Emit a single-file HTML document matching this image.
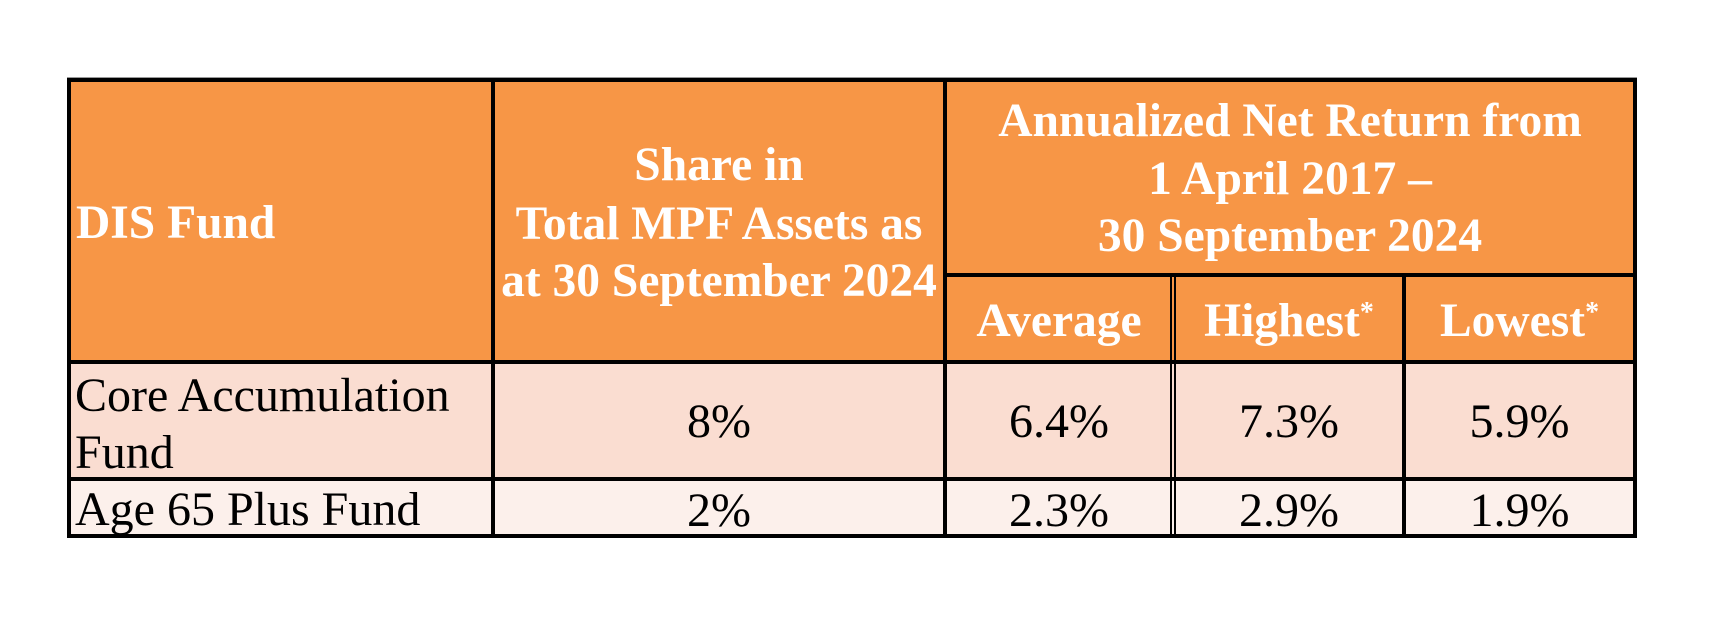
<!DOCTYPE html>
<html>
<head>
<meta charset="utf-8">
<style>
  html, body { margin:0; padding:0; background:#ffffff; }
  body { width:1716px; height:624px; position:relative; overflow:hidden;
         font-family:"Liberation Serif", "Times New Roman", serif; }
  .bg { position:absolute; }
  .ln { position:absolute; background:#000; }
  .t { position:absolute; white-space:nowrap; line-height:1; }
  .b { font-weight:bold; font-size:47.5px; color:#ffffff; }
  .r { font-weight:normal; font-size:48px; color:#000000; }
  .c { text-align:center; }
  .ast { font-size:28px; vertical-align:15px; line-height:0; }
</style>
</head>
<body>
  <!-- backgrounds -->
  <div class="bg" style="left:67px; top:78px; width:1570px; height:284px; background:#F79646;"></div>
  <div class="bg" style="left:67px; top:362px; width:1570px; height:117px; background:#FADDD1;"></div>
  <div class="bg" style="left:67px; top:479px; width:1570px; height:57px; background:#FCF0EB;"></div>

  <!-- faint antialias line above top border -->
  <div class="bg" style="left:67px; top:77px; width:1570px; height:1px; background:#9a9a9a;"></div>

  <!-- outer borders -->
  <div class="ln" style="left:67px; top:78px; width:1570px; height:4px;"></div>
  <div class="ln" style="left:67px; top:534px; width:1570px; height:4px;"></div>
  <div class="ln" style="left:67px; top:78px; width:4px; height:460px;"></div>
  <div class="ln" style="left:1633px; top:78px; width:4px; height:460px;"></div>

  <!-- vertical dividers -->
  <div class="ln" style="left:491px; top:78px; width:4px; height:460px;"></div>
  <div class="ln" style="left:943px; top:78px; width:4px; height:460px;"></div>
  <div class="ln" style="left:1170px; top:275px; width:2px; height:261px;"></div>
  <div class="ln" style="left:1173.5px; top:275px; width:2px; height:261px;"></div>
  <div class="ln" style="left:1402px; top:275px; width:4px; height:261px;"></div>

  <!-- horizontal dividers -->
  <div class="ln" style="left:943px; top:273px; width:694px; height:4px;"></div>
  <div class="ln" style="left:67px; top:360px; width:1570px; height:4px;"></div>
  <div class="ln" style="left:67px; top:477px; width:1570px; height:4px;"></div>

  <!-- header text -->
  <div class="t b" style="left:76px; top:200.2px;">DIS Fund</div>

  <div class="t b c" style="left:494px; width:450px; top:142.2px;">Share in</div>
  <div class="t b c" style="left:494px; width:450px; top:201.2px;">Total MPF Assets as</div>
  <div class="t b c" style="left:494px; width:450px; top:258.2px;">at 30 September 2024</div>

  <div class="t b c" style="left:947px; width:686px; top:98.2px;">Annualized Net Return from</div>
  <div class="t b c" style="left:947px; width:686px; top:156.2px;">1 April 2017 –</div>
  <div class="t b c" style="left:947px; width:686px; top:213.2px;">30 September 2024</div>

  <div class="t b c" style="left:947px; width:224px; top:298.2px;">Average</div>
  <div class="t b c" style="left:1176px; width:226px; top:298.2px;">Highest<span class="ast">*</span></div>
  <div class="t b c" style="left:1406px; width:227px; top:298.2px;">Lowest<span class="ast">*</span></div>

  <!-- body row 1 -->
  <div class="t r" style="left:75px; top:371.8px;">Core Accumulation</div>
  <div class="t r" style="left:75px; top:428.8px;">Fund</div>
  <div class="t r c" style="left:494px; width:450px; top:397.8px;">8%</div>
  <div class="t r c" style="left:947px; width:224px; top:397.8px;">6.4%</div>
  <div class="t r c" style="left:1176px; width:226px; top:397.8px;">7.3%</div>
  <div class="t r c" style="left:1406px; width:227px; top:397.8px;">5.9%</div>

  <!-- body row 2 -->
  <div class="t r" style="left:75px; top:485.8px;">Age 65 Plus Fund</div>
  <div class="t r c" style="left:494px; width:450px; top:486.8px;">2%</div>
  <div class="t r c" style="left:947px; width:224px; top:486.8px;">2.3%</div>
  <div class="t r c" style="left:1176px; width:226px; top:486.8px;">2.9%</div>
  <div class="t r c" style="left:1406px; width:227px; top:486.8px;">1.9%</div>
</body>
</html>
